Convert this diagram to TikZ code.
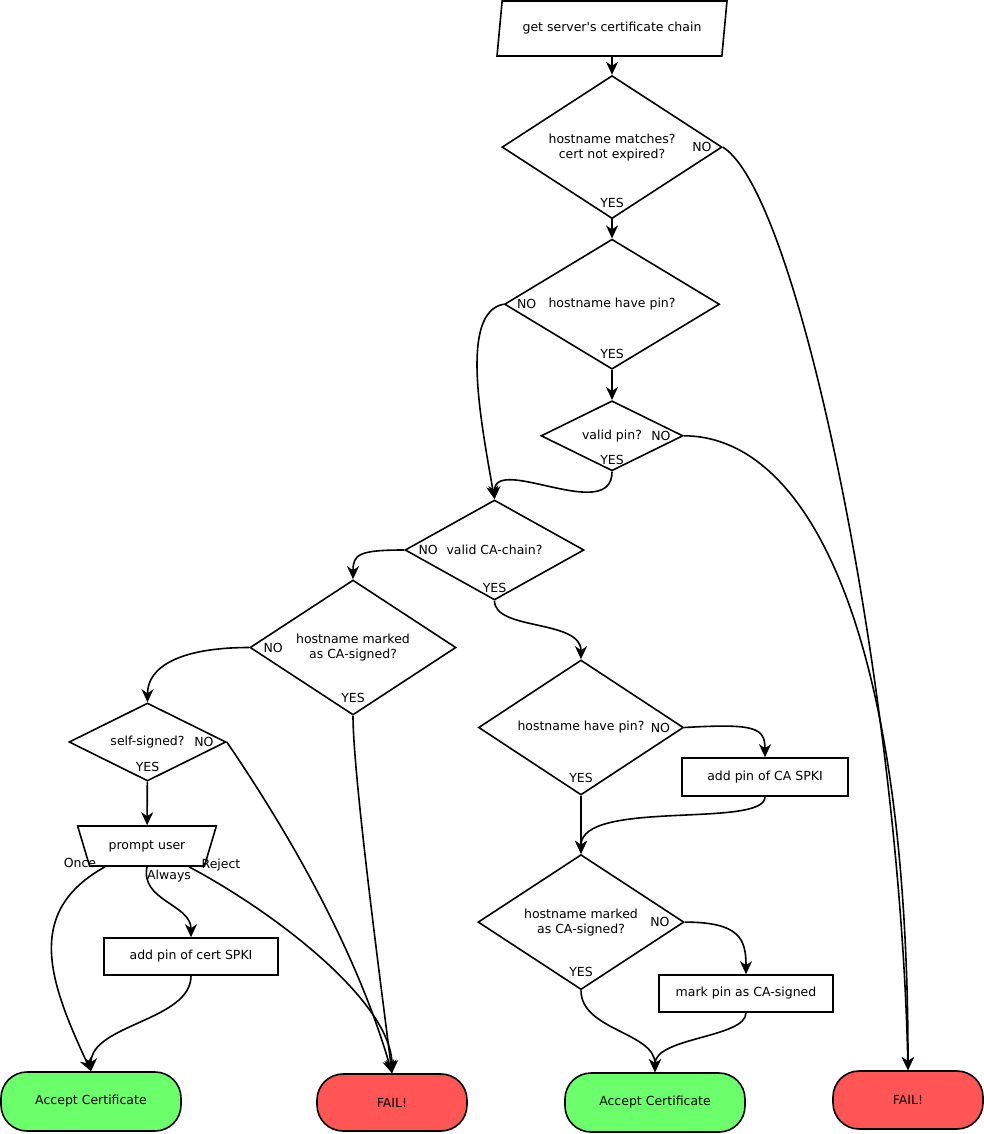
\documentclass[tikz,border=0pt]{standalone}
\usepackage{fontspec}
\setmainfont{DejaVu Sans}[Ligatures=TeXOff]
\usetikzlibrary{shapes.geometric, shapes.misc, positioning, arrows.meta}
\definecolor{acceptgreen}{RGB}{108,255,108}
\definecolor{failred}{RGB}{255,85,85}

\begin{document}
\begin{tikzpicture}[x=1pt, y=1pt, line width=1.6pt,
  every node/.style={font=\fontsize{12.5pt}{15pt}\selectfont, line width=1.6pt},
  >={Stealth[length=13pt, width=12pt, inset=4pt]},
  question/.style={diamond, draw, inner sep=0pt, align=center},
  action/.style={rectangle, draw, inner sep=0pt},
  terminal/.style={rectangle, draw, rounded corners=26pt, inner sep=0pt},
  lbl/.style={inner sep=0pt}]
\useasboundingbox (0,0) rectangle (984,-1134);

% input
\node[trapezium, draw, trapezium left angle=71, trapezium right angle=109, trapezium stretches,
  minimum width=230pt, minimum height=55pt, inner sep=0pt] (chain) at (612,-28.5) {get server's certificate chain};

% pin checks
\node[question, aspect=1.54, minimum width=220pt, minimum height=143pt, below=18pt of chain] (expired) {hostname matches?\\cert not expired?};
\node[question, aspect=1.65, minimum width=215pt, minimum height=130pt, below=19pt of expired] (havepin) {hostname have pin?};
\node[question, aspect=2, minimum width=142pt, minimum height=70pt, below=30pt of havepin] (validpin) {valid pin?};
\node[question, aspect=1.8, minimum width=179pt, minimum height=100pt] (cachain) at (494.5,-550) {valid CA-chain?};

% no CA chain
\node[question, aspect=1.53, minimum width=206pt, minimum height=135pt] (marked) at (353,-647.5) {hostname marked\\as CA-signed?};
\node[question, aspect=2, minimum width=157pt, minimum height=78pt] (selfsigned) at (147.5,-742) {self-signed?};
\node[trapezium, draw, trapezium angle=55, shape border rotate=180, trapezium stretches,
  minimum width=140pt, minimum height=40pt, inner sep=0pt] (prompt) at (147,-846) {prompt user};
\node[action, minimum width=174pt, minimum height=37pt] (addcert) at (191,-956.5) {add pin of cert SPKI};

% CA chain ok
\node[question, aspect=1.52, minimum width=205pt, minimum height=135pt] (capin) at (581,-727.5) {hostname have pin?};
\node[action, minimum width=166pt, minimum height=38pt] (addca) at (765,-777) {add pin of CA SPKI};
\node[question, aspect=1.53, minimum width=206pt, minimum height=135pt, below=58pt of capin] (camarked) {hostname marked\\as CA-signed?};
\node[action, minimum width=174pt, minimum height=37pt] (markpin) at (746,-993.5) {mark pin as CA-signed};

% results
\node[terminal, fill=acceptgreen, minimum width=180pt, minimum height=59pt] (acceptL) at (91,-1101.5) {Accept Certificate};
\node[terminal, fill=failred, minimum width=150pt, minimum height=57pt] (failL) at (392,-1102.5) {FAIL!};
\node[terminal, fill=acceptgreen, minimum width=180pt, minimum height=59pt] (acceptR) at (655,-1102.5) {Accept Certificate};
\node[terminal, fill=failred, minimum width=150pt, minimum height=58pt] (failR) at (908,-1100) {FAIL!};

% yes / no
\node[lbl, above=10.5pt of expired.south] (expiredyes) {YES};
\node[lbl, left=10.5pt of expired.east] (expiredno) {NO};
\node[lbl, above=10.5pt of havepin.south] (havepinyes) {YES};
\node[lbl, right=12.5pt of havepin.west] (havepinno) {NO};
\node[lbl, above=6.5pt of validpin.south] (validpinyes) {YES};
\node[lbl, left=12.5pt of validpin.east] (validpinno) {NO};
\node[lbl, above=7.5pt of cachain.south] (cachainyes) {YES};
\node[lbl, right=13.5pt of cachain.west] (cachainno) {NO};
\node[lbl, above=12.5pt of marked.south] (markedyes) {YES};
\node[lbl, right=13.5pt of marked.west] (markedno) {NO};
\node[lbl, above=9.5pt of selfsigned.south] (selfsignedyes) {YES};
\node[lbl, left=12.5pt of selfsigned.east] (selfsignedno) {NO};
\node[lbl, above=12.5pt of capin.south] (capinyes) {YES};
\node[lbl, left=13.5pt of capin.east] (capinno) {NO};
\node[lbl, above=12.5pt of camarked.south] (camarkedyes) {YES};
\node[lbl, left=14.5pt of camarked.east] (camarkedno) {NO};
\node[lbl] (once) at (80,-863) {Once};
\node[lbl] (always) at (169,-876) {Always};
\node[lbl] (reject) at (221,-865) {Reject};

\draw[->] (chain) -- (expired);
\draw[->] (expired) -- (havepin);
\draw[->] (havepin) -- (validpin);
\draw[->] (expired.east) .. controls +(78,-49) and +(-8,371) .. (failR.north);
\draw[->] (validpin.east) .. controls +(120,0) and +(0,450) .. (failR.north);
\draw[->] (havepin.west) .. controls +(-44,-8) and +(-14,80) .. (cachain.north);
\draw[->] (validpin.south) .. controls +(0,-53) and +(0,45) .. (cachain.north);
\draw[->] (cachain.west) .. controls +(-45,0) and +(0,25) .. (marked.north);
\draw[->] (cachain.south) .. controls +(0,-30) and +(0,40) .. (capin.north);
\draw[->] (marked.west) .. controls +(-70,0) and +(0,35) .. (selfsigned.north);
\draw[->] (marked.south) .. controls +(0,-60) and +(-10,80) .. (failL.north);
\draw[->] (selfsigned.east) .. controls +(75,-110) and +(-32,110) .. (failL.north);
\draw[->] (selfsigned) -- (prompt);
\draw[->] ([xshift=-42pt]prompt.south) .. controls +(-81,-45) and +(-42,90) .. (acceptL.north);
\draw[->] (prompt.south) .. controls +(-7,-34) and +(0,33) .. (addcert.north);
\draw[->] ([xshift=42pt]prompt.south) .. controls +(90,-48) and +(0,70) .. (failL.north);
\draw[->] (addcert.south) .. controls +(0,-45) and +(0,47) .. (acceptL.north);
\draw[->] (capin.east) .. controls +(70,4) and +(0,30) .. (addca.north);
\draw[->] (capin) -- (camarked);
\draw[->] (addca.south) .. controls +(0,-32) and +(0,55) .. (camarked.north);
\draw[->] (camarked.east) .. controls +(55,0) and +(0,35) .. (markpin.north);
\draw[->] (camarked.south) .. controls +(0,-40) and +(0,40) .. (acceptR.north);
\draw[->] (markpin.south) .. controls +(0,-25) and +(0,35) .. (acceptR.north);

\end{tikzpicture}
\end{document}
